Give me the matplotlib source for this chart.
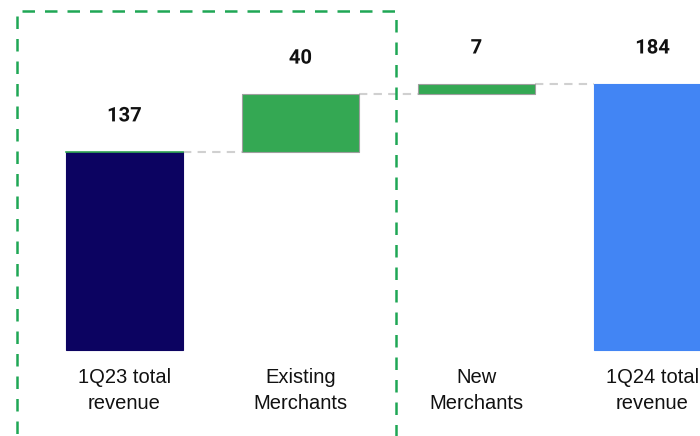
import matplotlib.pyplot as plt
import matplotlib.patheffects as pe
from matplotlib.patches import Rectangle

# revenue bridge, 1Q23 -> 1Q24
categories = ['1Q23 total\nrevenue', 'Existing\nMerchants', 'New\nMerchants', '1Q24 total\nrevenue']
values = [137, 40, 7, 184]
kinds = ['total', 'delta', 'delta', 'total']
colors = ['#0c0361', '#34a853', '#34a853', '#4285f4']

fig = plt.figure(figsize=(7, 4.36), dpi=100)
ax = fig.add_axes([0, 0, 1, 1])
ax.set_xlim(-0.707, 3.27)
ax.set_ylim(-59.5, 242.2)
ax.axis('off')

width = 0.665
bottoms = []
running = 0
for v, k in zip(values, kinds):
    if k == 'total':
        bottoms.append(0)
        running = v
    else:
        bottoms.append(running)
        running += v

for i, (v, b, c, k) in enumerate(zip(values, bottoms, colors, kinds)):
    edge = '#9e9e9e' if k == 'delta' else c
    ax.bar(i, v, bottom=b, width=width, color=c, edgecolor=edge, linewidth=0.8, zorder=3)
    top = b + v
    ax.text(i, top + 25, str(v), ha='center', va='center', fontsize=14.5, fontweight='bold',
            family='Roboto', color='#111111', zorder=5,
            path_effects=[pe.withStroke(linewidth=3, foreground='white')])
    ax.text(i, -28, categories[i], ha='center', va='center', fontsize=14.5,
            family='Liberation Sans', color='#111111', linespacing=1.45)

# thin green edge where the first increase starts
ax.plot([-width / 2, width / 2], [values[0], values[0]], color='#34a853', linewidth=1.2, zorder=4)

# connectors between consecutive bars
for i in range(len(values) - 1):
    level = bottoms[i] + values[i]
    ax.plot([i + width / 2, i + 1 - width / 2], [level, level], color='#d0d0d0',
            linestyle=(0, (4, 3)), linewidth=1.5, zorder=2)

# dashed box around the first two steps
box = Rectangle((17 / 700, -0.1), (396 - 17) / 700, 1.1 - 11 / 436, transform=fig.transFigure,
                fill=False, edgecolor='#1fa755', linewidth=1.8, linestyle=(0, (5, 4)), clip_on=False)
fig.patches.append(box)

fig.savefig('out.png', dpi=100)
